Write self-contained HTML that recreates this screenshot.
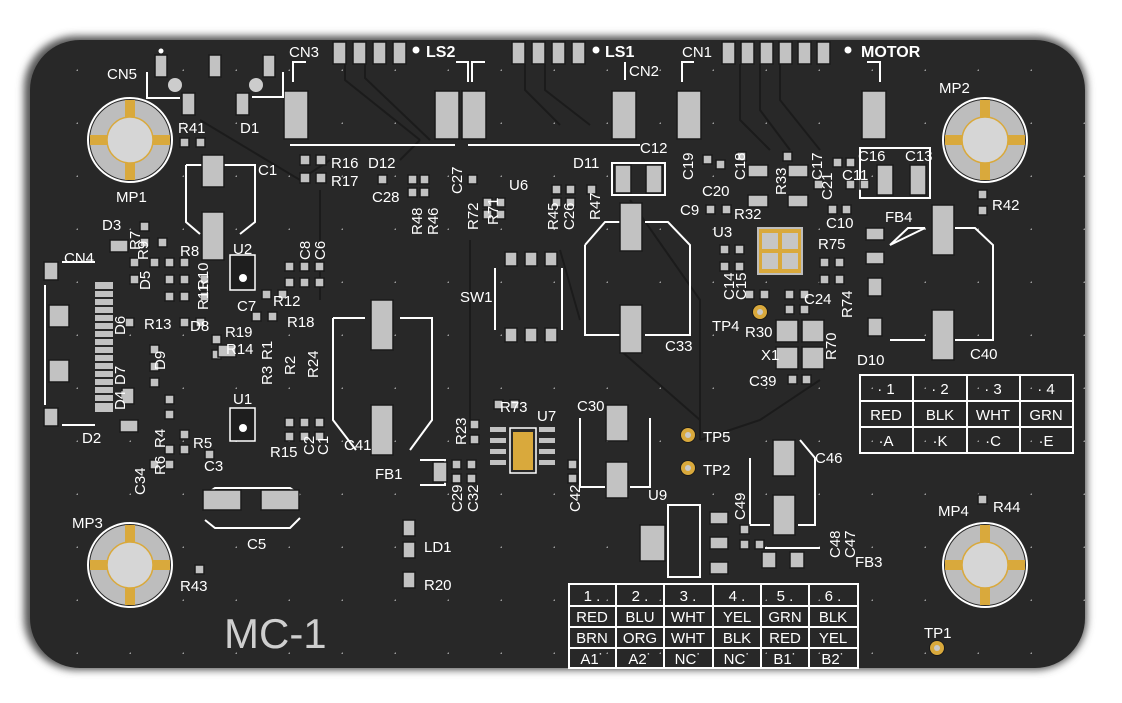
<!DOCTYPE html>
<html><head><meta charset="utf-8"><style>
html,body{margin:0;padding:0;background:#fff}
svg{display:block}
text{font-family:"Liberation Sans",sans-serif;fill:#fff;font-size:15px}
.b{font-weight:bold;font-size:16px}
.p{fill:#c2c2c2;stroke:#1a1a1a;stroke-width:1.5}
.o{fill:none;stroke:#fff;stroke-width:2}
.t{fill:none;stroke:#1b1b1b;stroke-width:2}
.g{fill:#d9a93c}
</style></head><body>
<svg width="1122" height="703" viewBox="0 0 1122 703" xmlns="http://www.w3.org/2000/svg">
<defs>
<filter id="sh" x="-5%" y="-5%" width="110%" height="110%"><feGaussianBlur stdDeviation="4"/></filter>
<pattern id="dots" x="25" y="18" width="53" height="53" patternUnits="userSpaceOnUse"><circle cx="53" cy="53" r="1.6" fill="#9a9a9a"/></pattern>
<g id="mp"><circle r="42" fill="none" stroke="#fff" stroke-width="2"/><circle r="40" fill="#bdbdbd"/>
<rect x="-5" y="-40" width="10" height="80" class="g"/><rect x="-40" y="-5" width="80" height="10" class="g"/>
<circle r="23" fill="#d6d6d6" stroke="#d9a93c" stroke-width="1.5"/></g>
<g id="tp"><circle r="8" fill="#1a1a1a"/><circle r="7" class="g"/><circle r="3" fill="#c9c9c9"/></g>
</defs>
<rect x="24" y="36" width="1063" height="634" rx="52" fill="#555" filter="url(#sh)"/>
<rect x="30" y="40" width="1055" height="628" rx="50" fill="#282828"/>
<rect x="30" y="40" width="1055" height="628" rx="50" fill="url(#dots)"/>

<g class="t">
<path d="M345 64 L345 80 L420 140"/><path d="M365 64 L365 78 L430 140"/><path d="M525 64 L525 90 L560 125"/><path d="M545 64 L545 90 L590 125"/>
<path d="M740 64 L740 120 L770 150"/><path d="M760 64 L760 110 L790 150"/><path d="M780 64 L780 100 L820 150"/>
<path d="M200 120 L300 180 L330 160"/><path d="M400 160 L420 140"/><path d="M630 200 L700 300 L700 440"/><path d="M700 440 L760 420 L820 380"/>
<path d="M320 190 L320 300"/><path d="M470 240 L470 420"/><path d="M560 250 L580 320"/><path d="M620 350 L700 420"/>
</g>

<use href="#mp" x="130" y="140"/><use href="#mp" x="985" y="140"/><use href="#mp" x="130" y="565"/><use href="#mp" x="985" y="565"/>

<g class="p">
<rect x="333" y="42" width="13" height="22"/><rect x="353" y="42" width="13" height="22"/><rect x="373" y="42" width="13" height="22"/><rect x="393" y="42" width="13" height="22"/>
<rect x="512" y="42" width="13" height="22"/><rect x="532" y="42" width="13" height="22"/><rect x="552" y="42" width="13" height="22"/><rect x="572" y="42" width="13" height="22"/>
<rect x="722" y="42" width="13" height="22"/><rect x="741" y="42" width="13" height="22"/><rect x="760" y="42" width="13" height="22"/><rect x="779" y="42" width="13" height="22"/><rect x="798" y="42" width="13" height="22"/><rect x="817" y="42" width="13" height="22"/>
<rect x="284" y="91" width="24" height="48"/><rect x="435" y="91" width="24" height="48"/><rect x="462" y="91" width="24" height="48"/><rect x="612" y="91" width="24" height="48"/><rect x="677" y="91" width="24" height="48"/><rect x="862" y="91" width="24" height="48"/>
<rect x="155" y="55" width="12" height="22"/><rect x="209" y="55" width="12" height="22"/><rect x="263" y="55" width="12" height="22"/>
<rect x="182" y="93" width="13" height="22"/><rect x="236" y="93" width="13" height="22"/>
</g>
<circle cx="416" cy="50" r="3.5" fill="#fff"/><circle cx="596" cy="50" r="3.5" fill="#fff"/><circle cx="848" cy="50" r="3.5" fill="#fff"/><circle cx="161" cy="51" r="2.5" fill="#fff"/>
<circle cx="175" cy="85" r="7" fill="#ccc"/><circle cx="256" cy="85" r="7" fill="#ccc"/>
<g class="o">
<path d="M147 72 L147 98 L180 98"/><path d="M252 97 L283 97 L283 72"/>
<path d="M293 82 L293 62 L306 62"/><path d="M456 62 L468 62 L468 82"/><path d="M472 82 L472 62 L485 62"/><path d="M625 62 L625 80"/>
<path d="M682 82 L682 62 L694 62"/><path d="M867 62 L880 62 L880 82"/>
<path d="M290 145 L455 145"/><path d="M468 145 L640 145"/>
</g>

<g class="o">
<path d="M186 165 L255 165 L255 222 L240 234 M186 165 L186 222 L200 234"/>
<path d="M333 318 L365 318 M400 318 L432 318 L432 420 L410 450 M333 318 L333 420 L356 450"/>
<path d="M585 245 L585 335 L620 335 M645 335 L690 335 L690 245 L668 222 L645 222 M620 222 L605 222 L585 245"/>
<path d="M890 340 L925 340 M955 340 L993 340 L993 245 L975 228 L955 228 M925 228 L908 228 L890 245 Z"/>
<path d="M580 418 L580 487 L605 487 M630 487 L650 487 L650 418"/>
<path d="M750 458 L750 525 L770 525 M798 525 L815 525 L815 458 L800 440"/>
<path d="M205 520 L215 528 L290 528 L300 518 M205 495 L215 488 L290 488 L300 495"/>
<path d="M860 148 L860 198 L930 198 L930 148 Z"/><path d="M612 163 L612 195 L665 195 L665 163 Z"/>
<path d="M495 268 L495 330 M562 268 L562 330"/>
<path d="M420 460 L445 460 L445 485 L420 485"/>
<path d="M668 505 L668 577 L700 577 L700 505 Z"/>
<path d="M765 548 L820 548"/>
</g>
<g class="p">
<rect x="202" y="155" width="22" height="32"/><rect x="202" y="212" width="22" height="48"/>
<rect x="371" y="300" width="22" height="50"/><rect x="371" y="405" width="22" height="50"/>
<rect x="620" y="203" width="22" height="48"/><rect x="620" y="305" width="22" height="48"/>
<rect x="932" y="205" width="22" height="50"/><rect x="932" y="310" width="22" height="50"/>
<rect x="606" y="405" width="22" height="36"/><rect x="606" y="462" width="22" height="36"/>
<rect x="773" y="440" width="22" height="36"/><rect x="773" y="495" width="22" height="40"/>
<rect x="203" y="490" width="38" height="20"/><rect x="261" y="490" width="38" height="20"/>
<rect x="615" y="165" width="16" height="28"/><rect x="646" y="165" width="16" height="28"/>
<rect x="877" y="165" width="16" height="30"/><rect x="910" y="165" width="16" height="30"/>
<rect x="640" y="525" width="25" height="36"/><rect x="710" y="512" width="18" height="12"/><rect x="710" y="537" width="18" height="12"/><rect x="710" y="562" width="18" height="12"/>
<rect x="776" y="320" width="22" height="22"/><rect x="802" y="320" width="22" height="22"/><rect x="776" y="347" width="22" height="22"/><rect x="802" y="347" width="22" height="22"/>
<rect x="866" y="228" width="18" height="12"/><rect x="866" y="252" width="18" height="12"/><rect x="868" y="278" width="14" height="18"/><rect x="868" y="318" width="14" height="18"/>
<rect x="433" y="462" width="14" height="20"/><rect x="403" y="520" width="12" height="16"/><rect x="403" y="542" width="12" height="16"/><rect x="403" y="572" width="12" height="16"/>
<rect x="762" y="552" width="14" height="16"/><rect x="790" y="552" width="14" height="16"/>
<rect x="49" y="305" width="20" height="22"/><rect x="49" y="360" width="20" height="22"/><rect x="44" y="262" width="14" height="18"/><rect x="44" y="408" width="14" height="18"/>
<rect x="505" y="252" width="12" height="14"/><rect x="525" y="252" width="12" height="14"/><rect x="545" y="252" width="12" height="14"/>
<rect x="505" y="328" width="12" height="14"/><rect x="525" y="328" width="12" height="14"/><rect x="545" y="328" width="12" height="14"/>
</g>
<g fill="#c2c2c2"><rect x="95" y="282" width="18" height="130"/></g>
<g stroke="#282828" stroke-width="2">
<path d="M95 290 H113 M95 298 H113 M95 306 H113 M95 314 H113 M95 322 H113 M95 330 H113 M95 338 H113 M95 346 H113 M95 354 H113 M95 362 H113 M95 370 H113 M95 378 H113 M95 386 H113 M95 394 H113 M95 402 H113"/></g>
<path class="o" d="M45 285 L45 405 M62 262 L95 262 M62 425 L95 425"/>

<g class="p">
<rect x="180" y="138" width="9" height="9"/><rect x="196" y="138" width="9" height="9"/>
<rect x="300" y="155" width="10" height="10"/><rect x="316" y="155" width="10" height="10"/><rect x="300" y="173" width="10" height="10"/><rect x="316" y="173" width="10" height="10"/>
<rect x="378" y="175" width="9" height="9"/><rect x="408" y="175" width="9" height="9"/><rect x="420" y="175" width="9" height="9"/><rect x="408" y="188" width="9" height="9"/><rect x="420" y="188" width="9" height="9"/>
<rect x="468" y="175" width="9" height="9"/><rect x="483" y="198" width="9" height="9"/><rect x="496" y="198" width="9" height="9"/><rect x="483" y="210" width="9" height="9"/><rect x="496" y="210" width="9" height="9"/>
<rect x="552" y="185" width="9" height="9"/><rect x="566" y="185" width="9" height="9"/><rect x="552" y="198" width="9" height="9"/><rect x="566" y="198" width="9" height="9"/><rect x="587" y="185" width="9" height="9"/>
<rect x="703" y="155" width="9" height="9"/><rect x="716" y="160" width="9" height="9"/><rect x="737" y="152" width="9" height="9"/><rect x="748" y="165" width="20" height="12"/><rect x="748" y="195" width="20" height="12"/>
<rect x="783" y="152" width="9" height="9"/><rect x="788" y="165" width="20" height="12"/><rect x="788" y="195" width="20" height="12"/><rect x="814" y="180" width="9" height="9"/>
<rect x="833" y="158" width="9" height="9"/><rect x="846" y="158" width="9" height="9"/><rect x="846" y="180" width="9" height="9"/><rect x="860" y="180" width="9" height="9"/>
<rect x="706" y="205" width="9" height="9"/><rect x="722" y="205" width="9" height="9"/><rect x="828" y="205" width="9" height="9"/><rect x="842" y="205" width="9" height="9"/>
<rect x="720" y="245" width="9" height="9"/><rect x="735" y="245" width="9" height="9"/><rect x="720" y="262" width="9" height="9"/><rect x="735" y="262" width="9" height="9"/>
<rect x="745" y="290" width="9" height="9"/><rect x="760" y="290" width="9" height="9"/><rect x="785" y="290" width="9" height="9"/><rect x="800" y="290" width="9" height="9"/><rect x="785" y="305" width="9" height="9"/><rect x="800" y="305" width="9" height="9"/>
<rect x="820" y="258" width="9" height="9"/><rect x="835" y="258" width="9" height="9"/><rect x="820" y="275" width="9" height="9"/><rect x="835" y="275" width="9" height="9"/>
<rect x="788" y="375" width="9" height="9"/><rect x="802" y="375" width="9" height="9"/><rect x="978" y="190" width="9" height="9"/><rect x="978" y="206" width="9" height="9"/>
<rect x="110" y="240" width="18" height="12"/><rect x="140" y="222" width="9" height="9"/><rect x="140" y="238" width="9" height="9"/><rect x="158" y="238" width="9" height="9"/>
<rect x="130" y="258" width="9" height="9"/><rect x="130" y="275" width="9" height="9"/><rect x="150" y="258" width="9" height="9"/><rect x="165" y="258" width="9" height="9"/><rect x="180" y="258" width="9" height="9"/>
<rect x="165" y="275" width="9" height="9"/><rect x="180" y="275" width="9" height="9"/><rect x="200" y="275" width="9" height="9"/><rect x="165" y="292" width="9" height="9"/><rect x="180" y="292" width="9" height="9"/><rect x="200" y="292" width="9" height="9"/>
<rect x="285" y="262" width="9" height="9"/><rect x="300" y="262" width="9" height="9"/><rect x="315" y="262" width="9" height="9"/><rect x="285" y="278" width="9" height="9"/><rect x="300" y="278" width="9" height="9"/><rect x="315" y="278" width="9" height="9"/>
<rect x="262" y="290" width="9" height="9"/><rect x="278" y="290" width="9" height="9"/><rect x="268" y="312" width="9" height="9"/><rect x="252" y="312" width="9" height="9"/>
<rect x="125" y="318" width="9" height="9"/><rect x="180" y="318" width="9" height="9"/><rect x="196" y="318" width="9" height="9"/><rect x="212" y="335" width="9" height="9"/><rect x="212" y="350" width="9" height="9"/>
<rect x="150" y="345" width="9" height="9"/><rect x="150" y="362" width="9" height="9"/><rect x="150" y="378" width="9" height="9"/><rect x="165" y="395" width="9" height="9"/><rect x="165" y="410" width="9" height="9"/>
<rect x="180" y="430" width="9" height="9"/><rect x="180" y="445" width="9" height="9"/><rect x="165" y="445" width="9" height="9"/><rect x="165" y="460" width="9" height="9"/><rect x="150" y="460" width="9" height="9"/><rect x="205" y="450" width="9" height="9"/>
<rect x="285" y="418" width="9" height="9"/><rect x="300" y="418" width="9" height="9"/><rect x="315" y="418" width="9" height="9"/><rect x="285" y="432" width="9" height="9"/><rect x="300" y="432" width="9" height="9"/><rect x="315" y="432" width="9" height="9"/>
<rect x="120" y="420" width="18" height="12"/><rect x="122" y="388" width="12" height="16"/><rect x="218" y="345" width="18" height="12"/>
<rect x="494" y="400" width="9" height="9"/><rect x="510" y="400" width="9" height="9"/><rect x="470" y="420" width="9" height="9"/><rect x="470" y="435" width="9" height="9"/>
<rect x="452" y="460" width="9" height="9"/><rect x="452" y="474" width="9" height="9"/><rect x="467" y="460" width="9" height="9"/><rect x="467" y="474" width="9" height="9"/>
<rect x="568" y="460" width="9" height="9"/><rect x="568" y="474" width="9" height="9"/>
<rect x="740" y="525" width="9" height="9"/><rect x="740" y="540" width="9" height="9"/><rect x="755" y="540" width="9" height="9"/>
<rect x="195" y="565" width="9" height="9"/><rect x="978" y="495" width="9" height="9"/>
</g>
<g fill="#c2c2c2"><rect x="490" y="427" width="16" height="5"/><rect x="490" y="438" width="16" height="5"/><rect x="490" y="449" width="16" height="5"/><rect x="490" y="460" width="16" height="5"/>
<rect x="539" y="427" width="16" height="5"/><rect x="539" y="438" width="16" height="5"/><rect x="539" y="449" width="16" height="5"/><rect x="539" y="460" width="16" height="5"/></g>
<rect x="510" y="428" width="26" height="45" fill="none" stroke="#fff" stroke-width="1.5"/>
<rect x="513" y="432" width="20" height="38" class="g"/>
<rect x="757" y="227" width="46" height="48" fill="#bdbdbd"/><rect x="759" y="229" width="42" height="44" class="g"/>
<g fill="#c6c6c6"><rect x="762" y="233" width="16" height="16"/><rect x="782" y="233" width="16" height="16"/><rect x="762" y="253" width="16" height="16"/><rect x="782" y="253" width="16" height="16"/></g>
<rect x="230" y="255" width="25" height="35" fill="#1e1e1e" stroke="#fff" stroke-width="1.5"/><circle cx="243" cy="278" r="4" fill="#fff"/>
<rect x="230" y="408" width="25" height="33" fill="#1e1e1e" stroke="#fff" stroke-width="1.5"/><circle cx="243" cy="428" r="4" fill="#fff"/>
<use href="#tp" x="688" y="435"/><use href="#tp" x="688" y="468"/><use href="#tp" x="760" y="312"/><use href="#tp" x="937" y="648"/>

<g class="o" stroke-width="1.8">
<rect x="860" y="375" width="213" height="78"/><path d="M860 401 H1073 M860 427 H1073 M913 375 V453 M967 375 V453 M1020 375 V453"/>
<rect x="569" y="584" width="289" height="84"/><path d="M569 606 H858 M569 627 H858 M569 648 H858 M616 584 V668 M664 584 V668 M713 584 V668 M761 584 V668 M809 584 V668"/>
</g>
<g text-anchor="middle" style="font-size:15px">
<text x="886" y="394">· 1</text><text x="940" y="394">· 2</text><text x="993" y="394">· 3</text><text x="1046" y="394">· 4</text>
<text x="886" y="420">RED</text><text x="940" y="420">BLK</text><text x="993" y="420">WHT</text><text x="1046" y="420">GRN</text>
<text x="886" y="446">·A</text><text x="940" y="446">·K</text><text x="993" y="446">·C</text><text x="1046" y="446">·E</text>
<text x="592" y="601">1 .</text><text x="640" y="601">2 .</text><text x="688" y="601">3 .</text><text x="737" y="601">4 .</text><text x="785" y="601">5 .</text><text x="833" y="601">6 .</text>
<text x="592" y="622">RED</text><text x="640" y="622">BLU</text><text x="688" y="622">WHT</text><text x="737" y="622">YEL</text><text x="785" y="622">GRN</text><text x="833" y="622">BLK</text>
<text x="592" y="643">BRN</text><text x="640" y="643">ORG</text><text x="688" y="643">WHT</text><text x="737" y="643">BLK</text><text x="785" y="643">RED</text><text x="833" y="643">YEL</text>
<text x="592" y="664">A1˙</text><text x="640" y="664">A2˙</text><text x="688" y="664">NC˙</text><text x="737" y="664">NC˙</text><text x="785" y="664">B1˙</text><text x="833" y="664">B2˙</text>
</g>

<text x="107" y="79">CN5</text><text x="178" y="133">R41</text><text x="240" y="133">D1</text><text x="116" y="202">MP1</text>
<text x="289" y="57">CN3</text><text x="426" y="57" class="b">LS2</text><text x="605" y="57" class="b">LS1</text><text x="629" y="76">CN2</text><text x="682" y="57">CN1</text><text x="861" y="57" class="b">MOTOR</text>
<text x="939" y="93">MP2</text><text x="331" y="168">R16</text><text x="331" y="186">R17</text><text x="368" y="168">D12</text><text x="372" y="202">C28</text><text x="509" y="190">U6</text>
<text x="573" y="168">D11</text><text x="640" y="153">C12</text><text x="858" y="161">C16</text><text x="905" y="161">C13</text><text x="842" y="180">C11</text>
<text x="702" y="196">C20</text><text x="680" y="215">C9</text><text x="734" y="219">R32</text><text x="713" y="237">U3</text><text x="818" y="249">R75</text><text x="826" y="228">C10</text>
<text x="885" y="222">FB4</text><text x="992" y="210">R42</text><text x="258" y="175">C1</text><text x="102" y="230">D3</text><text x="180" y="256">R8</text><text x="64" y="263">CN4</text>
<text x="233" y="254">U2</text><text x="237" y="311">C7</text><text x="273" y="306">R12</text><text x="144" y="329">R13</text><text x="190" y="331">D8</text><text x="225" y="337">R19</text>
<text x="287" y="327">R18</text><text x="226" y="354">R14</text><text x="460" y="302">SW1</text><text x="804" y="304">C24</text><text x="712" y="331">TP4</text><text x="745" y="337">R30</text>
<text x="857" y="365">D10</text><text x="970" y="359">C40</text><text x="665" y="351">C33</text><text x="761" y="360">X1</text><text x="749" y="386">C39</text><text x="344" y="450">C41</text>
<text x="500" y="412">R73</text><text x="537" y="421">U7</text><text x="577" y="411">C30</text><text x="703" y="442">TP5</text><text x="703" y="475">TP2</text><text x="815" y="463">C46</text>
<text x="82" y="443">D2</text><text x="233" y="404">U1</text><text x="270" y="457">R15</text><text x="193" y="448">R5</text><text x="204" y="471">C3</text><text x="375" y="479">FB1</text>
<text x="247" y="549">C5</text><text x="648" y="500">U9</text><text x="855" y="567">FB3</text><text x="72" y="528">MP3</text><text x="180" y="591">R43</text><text x="424" y="552">LD1</text>
<text x="424" y="590">R20</text><text x="938" y="516">MP4</text><text x="993" y="512">R44</text><text x="924" y="638">TP1</text>
<text x="224" y="648" style="font-size:42px;fill:#cfcfcf">MC-1</text>
<g>
<text transform="translate(462,194) rotate(-90)">C27</text><text transform="translate(478,230) rotate(-90)">R72</text><text transform="translate(498,225) rotate(-90)">R71</text>
<text transform="translate(422,235) rotate(-90)">R48</text><text transform="translate(438,235) rotate(-90)">R46</text>
<text transform="translate(558,230) rotate(-90)">R45</text><text transform="translate(574,230) rotate(-90)">C26</text><text transform="translate(600,220) rotate(-90)">R47</text>
<text transform="translate(693,180) rotate(-90)">C19</text><text transform="translate(745,180) rotate(-90)">C18</text><text transform="translate(786,195) rotate(-90)">R33</text>
<text transform="translate(822,180) rotate(-90)">C17</text><text transform="translate(832,200) rotate(-90)">C21</text>
<text transform="translate(140,250) rotate(-90)">R7</text><text transform="translate(148,260) rotate(-90)">R9</text>
<text transform="translate(150,290) rotate(-90)">D5</text><text transform="translate(208,290) rotate(-90)">R10</text><text transform="translate(208,310) rotate(-90)">R11</text>
<text transform="translate(310,260) rotate(-90)">C8</text><text transform="translate(325,260) rotate(-90)">C6</text><text transform="translate(125,335) rotate(-90)">D6</text>
<text transform="translate(165,370) rotate(-90)">D9</text><text transform="translate(125,385) rotate(-90)">D7</text><text transform="translate(125,410) rotate(-90)">D4</text>
<text transform="translate(272,360) rotate(-90)">R1</text><text transform="translate(272,385) rotate(-90)">R3</text><text transform="translate(295,375) rotate(-90)">R2</text><text transform="translate(318,378) rotate(-90)">R24</text>
<text transform="translate(734,300) rotate(-90)">C14</text><text transform="translate(746,300) rotate(-90)">C15</text><text transform="translate(852,318) rotate(-90)">R74</text>
<text transform="translate(836,360) rotate(-90)">R70</text><text transform="translate(466,445) rotate(-90)">R23</text>
<text transform="translate(165,448) rotate(-90)">R4</text><text transform="translate(165,475) rotate(-90)">R6</text><text transform="translate(145,495) rotate(-90)">C34</text>
<text transform="translate(314,455) rotate(-90)">C2</text><text transform="translate(328,455) rotate(-90)">C1</text>
<text transform="translate(462,512) rotate(-90)">C29</text><text transform="translate(478,512) rotate(-90)">C32</text><text transform="translate(580,512) rotate(-90)">C42</text>
<text transform="translate(745,520) rotate(-90)">C49</text><text transform="translate(840,558) rotate(-90)">C48</text><text transform="translate(855,558) rotate(-90)">C47</text>
</g>
</svg>
</body></html>
